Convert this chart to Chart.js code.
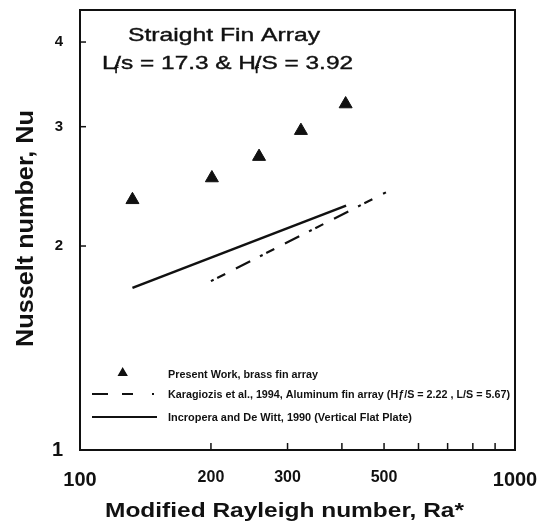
<!DOCTYPE html>
<html>
<head>
<title>Straight Fin Array - Nusselt vs Rayleigh</title>
<style>
  html, body { margin: 0; padding: 0; background: #fff; }
  #wrap { width: 545px; height: 524px; }
</style>
</head>
<body>
<div id="wrap"><canvas id="nuChart" width="545" height="524"></canvas></div>
<script src="https://cdn.jsdelivr.net/npm/chart.js"></script>
<script>
// values (log-log)
const raPresent = [132, 201, 258, 322, 408];
const nuPresent = [2.34, 2.52, 2.71, 2.96, 3.24];
const raKaragiozis = [200, 505];
const nuKaragiozis = [1.775, 2.40];
const raIncropera = [132, 409];
const nuIncropera = [1.735, 2.294];

const xTickLabels = [100, 200, 300, 500, 1000];
const xInnerTicks = [200, 300, 400, 500, 600, 700, 800, 900];
const yTickLabels = [1, 2, 3, 4];
const yInnerTicks = [2, 3, 4];
const legendLabels = [
    'Present Work, brass fin array',
    'Karagiozis et al., 1994, Aluminum fin array (H\u0192/S = 2.22 , L/S = 5.67)',
    'Incropera and De Witt, 1990 (Vertical Flat Plate)'
];

const INK = '#111';
const FONT = '"Liberation Sans", Arial, sans-serif';

function pts(xs, ys) {
    return xs.map(function (x, i) { return { x: x, y: ys[i] }; });
}

// draw text squeezed/stretched to a given width
function fitText(ctx, text, x, y, font, width, heavy) {
    ctx.save();
    ctx.font = font;
    var w = ctx.measureText(text).width;
    ctx.translate(x, y);
    ctx.scale(width / w, 1);
    ctx.textAlign = 'left';
    ctx.textBaseline = 'alphabetic';
    ctx.fillText(text, 0, 0);
    if (heavy) { ctx.lineWidth = heavy; ctx.strokeText(text, 0, 0); }
    ctx.restore();
}

// text with subscript pieces, fitted to width
function fitRich(ctx, parts, x, y, width, heavy) {
    ctx.save();
    var total = 0;
    parts.forEach(function (p) { ctx.font = p.font; total += ctx.measureText(p.t).width + (p.dx || 0); });
    ctx.translate(x, y);
    ctx.scale(width / total, 1);
    ctx.textBaseline = 'alphabetic';
    ctx.lineWidth = heavy || 0;
    var cx = 0;
    parts.forEach(function (p) {
        ctx.font = p.font;
        ctx.fillText(p.t, cx + (p.dx || 0), p.dy || 0);
        if (heavy) ctx.strokeText(p.t, cx + (p.dx || 0), p.dy || 0);
        cx += ctx.measureText(p.t).width + (p.dx || 0);
    });
    ctx.restore();
}

function noPadding(s) {
    s.paddingLeft = 0; s.paddingRight = 0; s.paddingTop = 0; s.paddingBottom = 0;
}

const decorPlugin = {
    id: 'decor',
    afterDraw: function (chart) {
        var ctx = chart.ctx;
        var ca = chart.chartArea;
        var xs = chart.scales.x, ys = chart.scales.y;
        ctx.save();
        ctx.strokeStyle = INK;
        ctx.fillStyle = INK;

        // frame
        ctx.lineWidth = 2;
        ctx.strokeRect(ca.left, ca.top, ca.right - ca.left, ca.bottom - ca.top);

        // inward tick marks
        ctx.lineWidth = 1.5;
        xInnerTicks.forEach(function (v) {
            var px = xs.getPixelForValue(v);
            ctx.beginPath(); ctx.moveTo(px, ca.bottom); ctx.lineTo(px, ca.bottom - 7); ctx.stroke();
        });
        yInnerTicks.forEach(function (v) {
            var py = ys.getPixelForValue(v);
            ctx.beginPath(); ctx.moveTo(ca.left, py); ctx.lineTo(ca.left + 6, py); ctx.stroke();
        });

        // annotation
        fitText(ctx, 'Straight Fin Array', 128, 41, '19px ' + FONT, 192, 0.4);
        var big = '19px ' + FONT, sub = '11px ' + FONT;
        fitRich(ctx, [
            { t: 'L', font: big },
            { t: 'f', font: sub, dy: 4, dx: -1 },
            { t: '/s = 17.3 & H', font: big, dx: -3 },
            { t: 'f', font: sub, dy: 4, dx: -1 },
            { t: '/S = 3.92', font: big, dx: -3 }
        ], 102, 69, 251, 0.4);

        // axis titles
        fitText(ctx, 'Modified Rayleigh number, Ra*', 105, 517, 'bold 20px ' + FONT, 359);
        ctx.save();
        ctx.translate(32.5, 347);
        ctx.rotate(-Math.PI / 2);
        fitText(ctx, 'Nusselt number, Nu', 0, 0, 'bold 23px ' + FONT, 237);
        ctx.restore();

        // legend
        var lf = 'bold 10.5px ' + FONT;
        Chart.helpers.drawPoint(ctx, { pointStyle: 'triangle', radius: 4.5, borderWidth: 1, rotation: 0 }, 122.7, 373);
        ctx.fill();
        fitText(ctx, legendLabels[0], 168, 378, lf, 150);

        ctx.lineWidth = 2;
        ctx.setLineDash([16, 14, 11, 19, 2, 100]);
        ctx.beginPath(); ctx.moveTo(92, 394); ctx.lineTo(156, 394); ctx.stroke();
        ctx.setLineDash([]);
        fitText(ctx, legendLabels[1], 168, 398, lf, 342);

        ctx.lineWidth = 2.2;
        ctx.beginPath(); ctx.moveTo(92, 417); ctx.lineTo(157, 417); ctx.stroke();
        fitText(ctx, legendLabels[2], 168, 421, lf, 244);

        ctx.restore();
    }
};

new Chart(document.getElementById('nuChart').getContext('2d'), {
    type: 'scatter',
    data: {
        datasets: [{
            label: legendLabels[0],
            data: pts(raPresent, nuPresent),
            pointStyle: 'triangle',
            pointRadius: 7.5,
            borderWidth: 1,
            backgroundColor: INK,
            borderColor: INK,
            showLine: false
        }, {
            label: legendLabels[1],
            data: pts(raKaragiozis, nuKaragiozis),
            showLine: true,
            pointRadius: 0,
            borderColor: INK,
            borderWidth: 2.2,
            borderDash: [3, 4, 9, 12, 16, 11],
            tension: 0
        }, {
            label: legendLabels[2],
            data: pts(raIncropera, nuIncropera),
            showLine: true,
            pointRadius: 0,
            borderColor: INK,
            borderWidth: 2.6,
            tension: 0
        }]
    },
    options: {
        responsive: false,
        animation: false,
        devicePixelRatio: 1,
        layout: { padding: { top: 10, right: 30, left: 0, bottom: 0 } },
        plugins: { legend: { display: false }, tooltip: { enabled: false } },
        scales: {
            x: {
                type: 'logarithmic',
                min: 100,
                max: 1000,
                grid: { display: false, drawTicks: false },
                border: { display: false },
                afterBuildTicks: function (s) { s.ticks = xTickLabels.map(function (v) { return { value: v }; }); },
                afterFit: function (s) { s.height = 74; noPadding(s); },
                ticks: {
                    padding: 18,
                    color: INK,
                    maxRotation: 0,
                    autoSkip: false,
                    font: function (c) {
                        var v = c.tick ? c.tick.value : 0;
                        return { family: FONT, weight: 'bold', size: (v === 100 || v === 1000) ? 20 : 16 };
                    },
                    callback: function (v) { return String(v); }
                }
            },
            y: {
                type: 'logarithmic',
                min: 1,
                max: 4.46,
                grid: { display: false, drawTicks: false },
                border: { display: false },
                afterBuildTicks: function (s) { s.ticks = yTickLabels.map(function (v) { return { value: v }; }); },
                afterFit: function (s) { s.width = 80; noPadding(s); },
                ticks: {
                    padding: 17,
                    color: INK,
                    autoSkip: false,
                    font: function (c) {
                        var v = c.tick ? c.tick.value : 0;
                        return { family: FONT, weight: 'bold', size: v === 1 ? 20 : 15 };
                    },
                    callback: function (v) { return String(v); }
                }
            }
        }
    },
    plugins: [decorPlugin]
});
</script>
</body>
</html>
